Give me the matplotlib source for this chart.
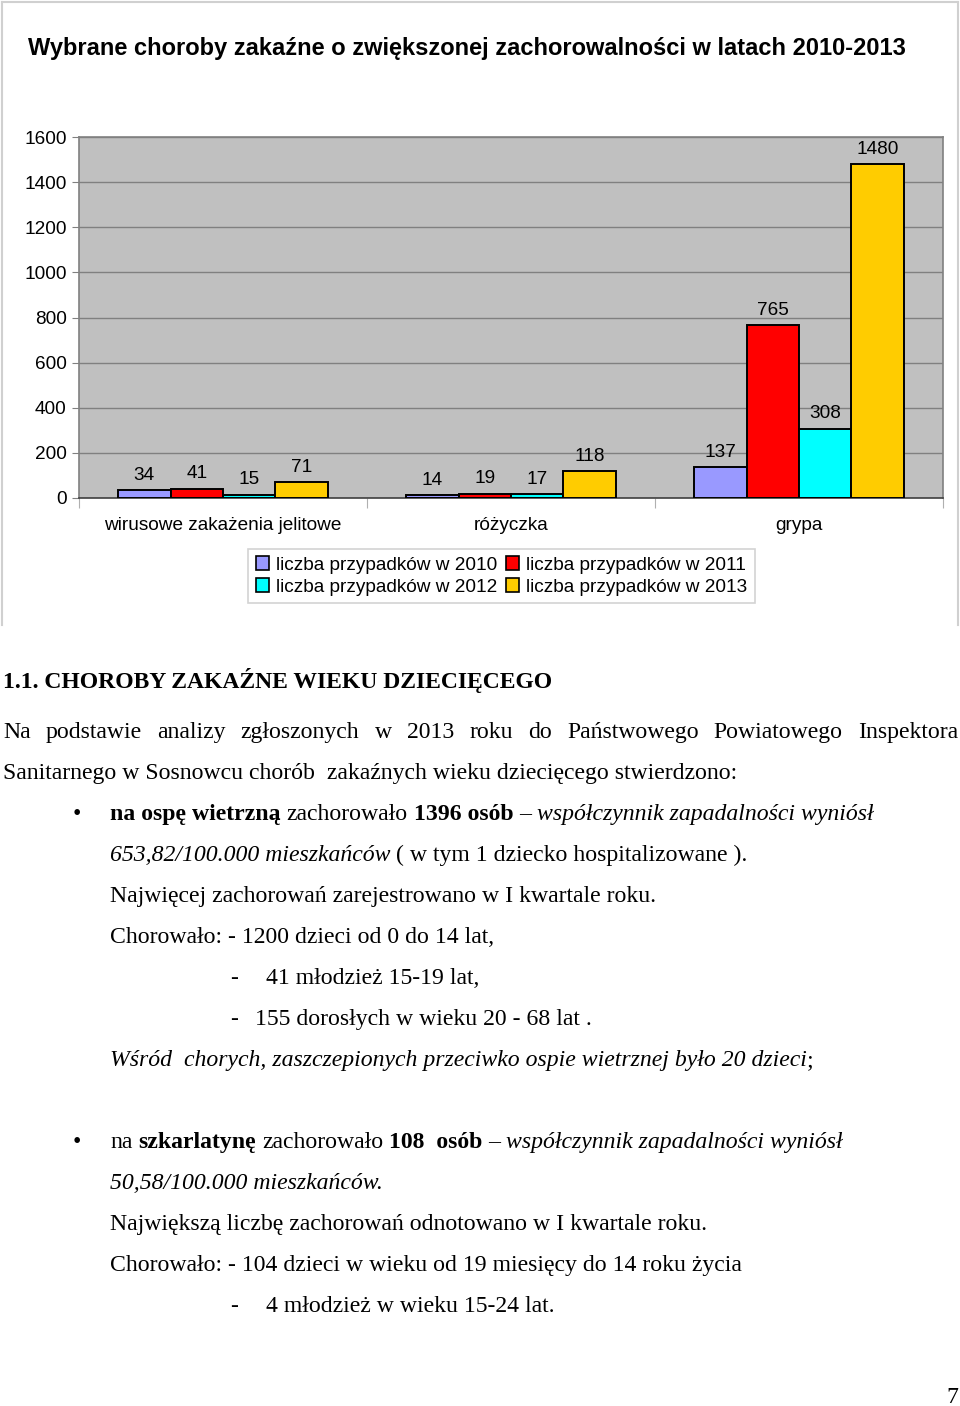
import numpy as np
import matplotlib
matplotlib.use("Agg")
import matplotlib.pyplot as plt
from matplotlib.lines import Line2D
from matplotlib.patches import Patch

# chart data
categories = ["wirusowe zakażenia jelitowe", "różyczka", "grypa"]
series = ["liczba przypadków w 2010", "liczba przypadków w 2011",
          "liczba przypadków w 2012", "liczba przypadków w 2013"]
v2010 = [34, 14, 137]
v2011 = [41, 19, 765]
v2012 = [15, 17, 308]
v2013 = [71, 118, 1480]
colors = ["#9999FF", "#FF0000", "#00FFFF", "#FFCC00"]
yticks = [0, 200, 400, 600, 800, 1000, 1200, 1400, 1600]

W, H = 960, 1406
fig = plt.figure(figsize=(W / 100, H / 100), dpi=100)
SANS = "Liberation Sans"
SERIF = "Liberation Serif"
CFS = 13.7  # chart font size


def fx(px):
    return px / W


def fy(py):
    return 1 - py / H


# chart frame (no bottom line)
for xs, ys in [([2, 2], [2, 625]), ([2, 958], [2, 2]), ([958, 958], [2, 625])]:
    fig.add_artist(Line2D([fx(x) for x in xs], [fy(y) for y in ys],
                          transform=fig.transFigure, color="#d0d0d0", lw=1.5))

fig.text(fx(28), fy(49), "Wybrane choroby zakaźne o zwiększonej zachorowalności w latach 2010-2013",
         family=SANS, weight="bold", fontsize=17, va="center", ha="left")

ax = fig.add_axes([fx(79), fy(498), 864 / W, 361 / H])
ax.set_facecolor("#C0C0C0")
ax.set_xlim(0, 3)
ax.set_ylim(0, 1600)

data = [v2010, v2011, v2012, v2013]
bw = 0.182
centers = np.arange(len(categories)) + 0.5
handles = []
for i, (vals, col, name) in enumerate(zip(data, colors, series)):
    xs = centers + (i - 1.5) * bw
    bars = ax.bar(xs, vals, width=bw, color=col, edgecolor="black", lw=1.4, zorder=3)
    for b, v in zip(bars, vals):
        ax.annotate(str(v), (b.get_x() + bw / 2, v), xytext=(0, 4.5), textcoords="offset points",
                    ha="center", va="bottom", fontsize=CFS, family=SANS)
    handles.append(Patch(facecolor=col, edgecolor="black", lw=1.2, label=name))

ax.set_yticks(yticks)
ax.set_yticklabels([str(t) for t in yticks], family=SANS, fontsize=CFS)
ax.yaxis.grid(True, color="#808080", lw=1)
ax.set_axisbelow(True)
ax.tick_params(axis="y", length=5, color="#808080", pad=4)
ax.set_xticks([0, 1, 2, 3])
ax.set_xticklabels([])
ax.tick_params(axis="x", length=7, color="#b0b0b0", direction="out")
for s in ["top", "right", "left"]:
    ax.spines[s].set_color("#808080")
    ax.spines[s].set_lw(1.2)
ax.spines["bottom"].set_color("#404040")
ax.spines["bottom"].set_lw(1.2)

for c, name in zip(centers, categories):
    ax.text(c, -0.075, name, transform=ax.get_xaxis_transform(), ha="center", va="center",
            family=SANS, fontsize=CFS)

order = [0, 2, 1, 3]
leg = fig.legend([handles[k] for k in order], [series[k] for k in order], ncol=2,
                 loc="center", bbox_to_anchor=(fx(501.5), fy(576)),
                 prop={"family": SANS, "size": CFS}, frameon=True, fancybox=False,
                 handlelength=0.7, handleheight=0.7, handletextpad=0.35, columnspacing=0.45,
                 labelspacing=0.25, borderpad=0.4, borderaxespad=0)
leg.get_frame().set_edgecolor("#c8c8c8")
leg.get_frame().set_linewidth(1.2)

# document text
renderer = fig.canvas.get_renderer()
FS = 17.1


def width(s, weight="normal", style="normal", size=FS):
    t = fig.text(0, 0, s, family=SERIF, fontsize=size, weight=weight, style=style)
    w = t.get_window_extent(renderer).width
    t.remove()
    return w


def run(x, y, parts, size=FS):
    # parts: list of (text, weight, style); pieces placed one after another
    for s, wt, st in parts:
        sp = width("a a", wt, st, size) - width("aa", wt, st, size)
        if s.startswith(" "):
            x += sp * (len(s) - len(s.lstrip(" ")))
        core = s.strip(" ")
        if core:
            fig.text(fx(x), fy(y), core, family=SERIF, fontsize=size, weight=wt, style=st,
                     ha="left", va="baseline")
            x += width(core, wt, st, size)
        if s.endswith(" ") and core:
            x += sp * (len(s) - len(s.rstrip(" ")))
    return x


def justify(x0, x1, y, s):
    words = s.split()
    ws = [width(w) for w in words]
    gap = (x1 - x0 - sum(ws)) / (len(words) - 1)
    x = x0
    for w, wd in zip(words, ws):
        fig.text(fx(x), fy(y), w, family=SERIF, fontsize=FS, ha="left", va="baseline")
        x += wd + gap


N, B, I = "normal", "bold", "italic"

run(3, 688, [("1.1. CHOROBY ZAKAŹNE WIEKU DZIECIĘCEGO", B, N)], size=17)
justify(3, 958, 738, "Na podstawie analizy zgłoszonych w 2013 roku do Państwowego Powiatowego Inspektora")
run(3, 779, [("Sanitarnego w Sosnowcu chorób  zakaźnych wieku dziecięcego stwierdzono:", N, N)])

run(73, 820, [("•", N, N)])
run(110, 820, [("na ospę wietrzną", B, N), (" zachorowało ", N, N), ("1396 osób", B, N),
               (" – ", N, N), ("współczynnik zapadalności wyniósł", N, I)])
run(110, 861, [("653,82/100.000 mieszkańców", N, I), (" ( w tym 1 dziecko hospitalizowane ).", N, N)])
run(110, 902, [("Najwięcej zachorowań zarejestrowano w I kwartale roku.", N, N)])
run(110, 943, [("Chorowało: - 1200 dzieci od 0 do 14 lat,", N, N)])
run(230, 984, [("-", N, N)])
run(266, 984, [("41 młodzież 15-19 lat,", N, N)])
run(230, 1025, [("-", N, N)])
run(255, 1025, [("155 dorosłych w wieku 20 - 68 lat .", N, N)])
run(110, 1066, [("Wśród  chorych, zaszczepionych przeciwko ospie wietrznej było 20 dzieci", N, I), (";", N, N)])

run(73, 1148, [("•", N, N)])
run(110, 1148, [("na ", N, N), ("szkarlatynę", B, N), (" zachorowało ", N, N), ("108  osób", B, N),
                (" – ", N, N), ("współczynnik zapadalności wyniósł", N, I)])
run(110, 1189, [("50,58/100.000 mieszkańców.", N, I)])
run(110, 1230, [("Największą liczbę zachorowań odnotowano w I kwartale roku.", N, N)])
run(110, 1271, [("Chorowało: - 104 dzieci w wieku od 19 miesięcy do 14 roku życia", N, N)])
run(230, 1312, [("-", N, N)])
run(266, 1312, [("4 młodzież w wieku 15-24 lat.", N, N)])

run(946, 1403, [("7", N, N)])

fig.savefig("out.png", dpi=100)
